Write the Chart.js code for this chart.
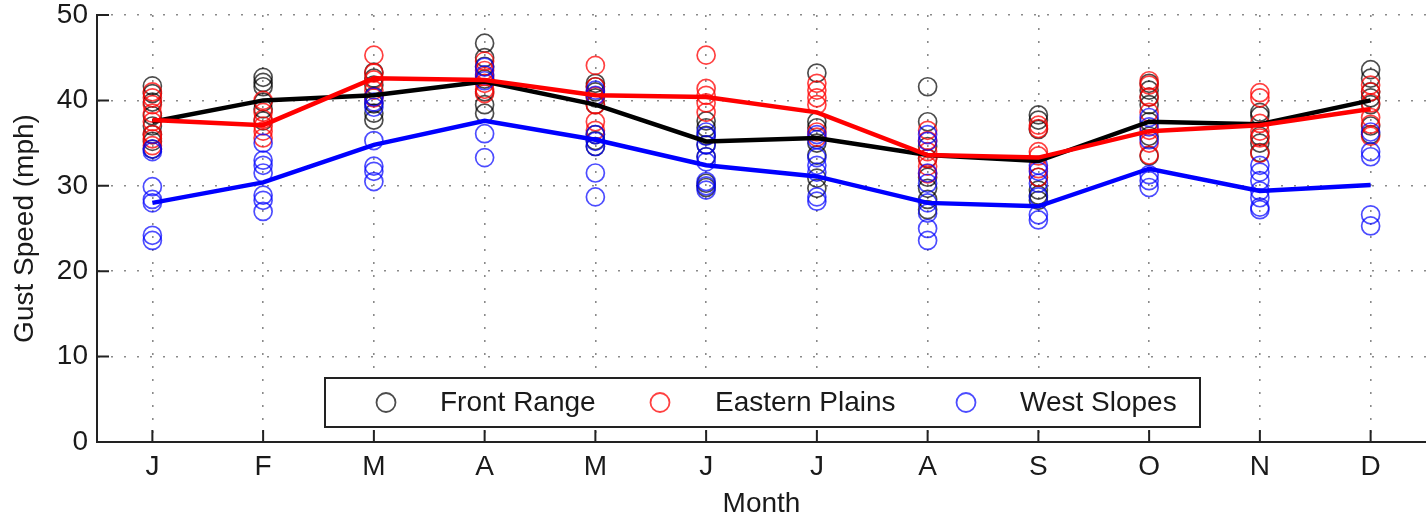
<!DOCTYPE html>
<html>
<head>
<meta charset="utf-8">
<script src="https://cdn.jsdelivr.net/npm/chart.js@4.4.1/dist/chart.umd.min.js"></script>
<style>
  html, body { margin: 0; padding: 0; background: #fff; }
  #wrap { width: 1426px; height: 518px; }
</style>
</head>
<body>
<div id="wrap"><canvas id="gust" width="1426" height="518"></canvas></div>
<script>
var monthLabels = ['J', 'F', 'M', 'A', 'M', 'J', 'J', 'A', 'S', 'O', 'N', 'D'];
var yTicks = [0, 10, 20, 30, 40, 50];

// station gust speeds per month (mph)
var frontRangePts = [
  [41.7, 40.8, 39.8, 38.2, 37.0, 36.0, 35.2, 34.3],
  [42.7, 42.1, 41.6, 39.8, 39.0, 37.6],
  [43.3, 42.6, 41.8, 40.5, 39.6, 38.5, 37.7],
  [46.7, 45.0, 44.0, 42.5, 41.0, 39.5, 38.5],
  [42.0, 41.6, 41.0, 40.3, 39.5, 36.0, 35.3, 34.6],
  [37.6, 36.8, 35.9, 34.8, 33.4, 30.3, 29.8],
  [43.2, 37.5, 36.8, 35.0, 33.6, 30.9, 29.7],
  [41.6, 37.5, 34.6, 33.2, 31.0, 29.7, 28.4, 27.2],
  [38.3, 37.7, 36.6, 31.0, 29.5, 28.9, 28.3],
  [42.0, 41.2, 40.4, 39.5, 37.5, 35.8, 33.5],
  [38.6, 38.2, 35.8, 35.0, 33.9],
  [43.6, 42.6, 41.0, 40.3, 39.5, 37.0, 36.0]
];
var easternPlainsPts = [
  [41.0, 40.3, 39.5, 38.5, 37.5, 36.0, 35.5, 34.7],
  [40.0, 38.6, 37.8, 37.0, 36.4, 35.6],
  [45.3, 43.2, 42.4, 41.2, 40.3],
  [44.6, 43.5, 42.8, 42.0, 41.3, 40.8],
  [44.1, 41.6, 40.5, 39.5, 37.5, 36.5],
  [45.3, 41.4, 40.6, 39.7, 38.6],
  [42.0, 41.2, 40.3, 39.5, 36.3, 35.7],
  [36.5, 35.3, 34.0, 33.2, 32.3, 31.4],
  [37.1, 36.7, 34.0, 33.5, 32.0, 31.0],
  [42.3, 41.8, 40.4, 38.6, 36.5, 35.0, 33.6],
  [40.9, 40.3, 37.3, 36.4, 35.6, 33.8],
  [41.8, 41.0, 39.7, 38.0, 37.2, 35.8]
];
var westSlopesPts = [
  [34.3, 34.0, 29.9, 28.4, 28.0, 24.2, 23.6],
  [35.0, 33.0, 32.4, 31.5, 28.9, 28.3, 27.0],
  [40.4, 39.8, 39.2, 35.3, 32.3, 31.7, 30.5],
  [43.9, 43.0, 42.3, 36.1, 33.3],
  [41.2, 40.6, 36.0, 35.2, 34.6, 31.5, 28.7],
  [36.3, 35.8, 34.8, 33.4, 32.8, 30.5, 30.0, 29.5],
  [36.0, 35.4, 33.3, 32.4, 31.6, 28.7, 28.2],
  [36.0, 35.2, 31.5, 30.3, 28.0, 26.8, 25.0, 23.6],
  [32.4, 31.7, 30.3, 28.7, 26.6, 26.0],
  [38.0, 36.9, 35.4, 31.3, 30.6, 29.8],
  [32.4, 31.6, 30.6, 29.4, 28.6, 27.5, 27.2],
  [36.3, 34.0, 33.4, 26.6, 25.3]
];

// monthly means
var frontRangeMean    = [37.5, 40.0, 40.6, 42.2, 39.5, 35.2, 35.6, 33.6, 32.9, 37.5, 37.2, 40.0];
var easternPlainsMean = [37.7, 37.1, 42.6, 42.4, 40.6, 40.4, 38.6, 33.6, 33.3, 36.4, 37.1, 39.0];
var westSlopesMean    = [28.0, 30.4, 34.8, 37.6, 35.4, 32.4, 31.1, 28.0, 27.6, 32.0, 29.4, 30.1];

var seriesNames = ['Front Range', 'Eastern Plains', 'West Slopes'];
var circleColors = ['rgba(0,0,0,0.7)', 'rgba(255,0,0,0.75)', 'rgba(0,0,255,0.7)'];
var lineColors = ['#000000', '#ff0000', '#0000ff'];

var FONT = '"Liberation Sans", Arial, sans-serif';

function toPoints(perMonth) {
  var out = [];
  perMonth.forEach(function (vals, m) {
    vals.forEach(function (v) { out.push({ x: m + 1, y: v }); });
  });
  return out;
}
function toLine(vals) {
  return vals.map(function (v, m) { return { x: m + 1, y: v }; });
}

function circleSet(label, pts, color, order) {
  return {
    label: label,
    data: toPoints(pts),
    showLine: false,
    pointStyle: 'circle',
    pointRadius: 9,
    pointBorderWidth: 1.7,
    pointBorderColor: color,
    pointBackgroundColor: 'rgba(0,0,0,0)',
    order: order
  };
}
function lineSet(label, vals, color, order) {
  return {
    label: label,
    data: toLine(vals),
    showLine: true,
    borderColor: color,
    borderWidth: 4.5,
    pointRadius: 0,
    fill: false,
    tension: 0,
    order: order
  };
}

var insideBits = {
  id: 'insideBits',
  afterDraw: function (chart) {
    var ctx = chart.ctx;
    var xs = chart.scales.x, ys = chart.scales.y;
    var area = chart.chartArea;
    ctx.save();
    // inward tick marks
    ctx.strokeStyle = '#222';
    ctx.lineWidth = 2;
    ctx.beginPath();
    yTicks.forEach(function (v) {
      var py = ys.getPixelForValue(v);
      ctx.moveTo(area.left, py);
      ctx.lineTo(area.left + 12, py);
    });
    monthLabels.forEach(function (l, i) {
      var px = xs.getPixelForValue(i + 1);
      ctx.moveTo(px, area.bottom);
      ctx.lineTo(px, area.bottom - 12);
    });
    ctx.stroke();

    // legend box inside the plot
    var bx = 325, by = 378, bw = 875, bh = 49;
    ctx.fillStyle = '#fff';
    ctx.fillRect(bx, by, bw, bh);
    ctx.strokeStyle = '#222';
    ctx.lineWidth = 2;
    ctx.strokeRect(bx, by, bw, bh);
    var markX = [386, 660, 966];
    var textX = [440, 715, 1020];
    var cy = by + bh / 2;
    ctx.font = '28px ' + FONT;
    ctx.textBaseline = 'middle';
    ctx.textAlign = 'left';
    for (var i = 0; i < 3; i++) {
      ctx.beginPath();
      ctx.arc(markX[i], cy, 9.5, 0, Math.PI * 2);
      ctx.lineWidth = 1.8;
      ctx.strokeStyle = circleColors[i];
      ctx.stroke();
      ctx.fillStyle = '#1a1a1a';
      ctx.fillText(seriesNames[i], textX[i], cy + 1);
    }
    ctx.restore();
  }
};

var ctx = document.getElementById('gust');
var gustChart = new Chart(ctx, {
  type: 'scatter',
  data: {
    datasets: [
      lineSet(seriesNames[2] + ' mean', westSlopesMean, lineColors[2], 1),
      lineSet(seriesNames[1] + ' mean', easternPlainsMean, lineColors[1], 2),
      lineSet(seriesNames[0] + ' mean', frontRangeMean, lineColors[0], 3),
      circleSet(seriesNames[2], westSlopesPts, circleColors[2], 10),
      circleSet(seriesNames[1], easternPlainsPts, circleColors[1], 11),
      circleSet(seriesNames[0], frontRangePts, circleColors[0], 12)
    ]
  },
  options: {
    responsive: false,
    animation: false,
    layout: { autoPadding: false, padding: { top: 15, right: 0, bottom: 0, left: 0 } },
    plugins: {
      legend: { display: false },
      tooltip: { enabled: false }
    },
    scales: {
      x: {
        type: 'linear',
        min: 0.5,
        max: 12.5,
        afterBuildTicks: function (scale) {
          scale.ticks = monthLabels.map(function (l, i) { return { value: i + 1 }; });
        },
        afterFit: function (scale) {
          scale.height = 76;
          scale.paddingLeft = 0;
          scale.paddingRight = 0;
        },
        ticks: {
          callback: function (v) { return monthLabels[Math.round(v) - 1]; },
          font: { family: FONT, size: 28, lineHeight: 1.0 },
          color: '#1a1a1a',
          padding: 11,
          maxRotation: 0,
          autoSkip: false
        },
        grid: { color: '#8a8a8a', lineWidth: 1.6, drawTicks: false },
        border: { display: true, color: '#222', width: 2, dash: [2, 11] },
        title: {
          display: true,
          text: 'Month',
          font: { family: FONT, size: 28, lineHeight: 1.0 },
          color: '#1a1a1a',
          padding: { top: 0, bottom: 0 }
        }
      },
      y: {
        min: 0,
        max: 50,
        afterBuildTicks: function (scale) {
          scale.ticks = yTicks.map(function (v) { return { value: v }; });
        },
        afterFit: function (scale) {
          scale.width = 97;
          scale.paddingTop = 0;
          scale.paddingBottom = 0;
        },
        ticks: {
          font: { family: FONT, size: 28, lineHeight: 1.0 },
          color: '#1a1a1a',
          padding: 9
        },
        grid: { color: '#8a8a8a', lineWidth: 1.6, drawTicks: false },
        border: { display: true, color: '#222', width: 2, dash: [2, 11] },
        title: {
          display: true,
          text: 'Gust Speed (mph)',
          font: { family: FONT, size: 28, lineHeight: 1.2 },
          color: '#1a1a1a',
          padding: { top: 8, bottom: 0 }
        }
      }
    }
  },
  plugins: [insideBits]
});
</script>
</body>
</html>
